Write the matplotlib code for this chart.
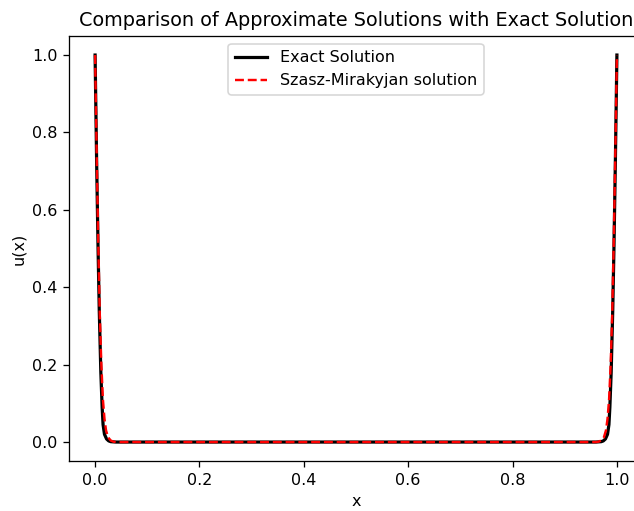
import matplotlib
matplotlib.use("Agg")
import matplotlib.pyplot as plt

# Values
x_exact = [0.0, 0.003, 0.0057, 0.008, 0.011, 0.0135, 0.0153, 0.018, 0.022, 0.026, 0.030, 0.040,
           0.960, 0.970, 0.974, 0.978, 0.982, 0.9847, 0.9865, 0.989, 0.992, 0.9943, 0.997, 1.0]
u_exact = [1.0, 0.72, 0.50, 0.34, 0.18, 0.09, 0.045, 0.02, 0.008, 0.003, 0.001, 0.0,
           0.0, 0.001, 0.003, 0.008, 0.02, 0.045, 0.09, 0.18, 0.34, 0.50, 0.72, 1.0]

x_szasz = [0.0, 0.003, 0.006, 0.009, 0.012, 0.015, 0.018, 0.021, 0.025, 0.030, 0.035, 0.040,
           0.960, 0.965, 0.970, 0.975, 0.979, 0.982, 0.985, 0.988, 0.991, 0.994, 0.997, 1.0]
u_szasz = [1.0, 0.75, 0.52, 0.33, 0.20, 0.11, 0.06, 0.03, 0.012, 0.004, 0.001, 0.0,
           0.0, 0.001, 0.004, 0.012, 0.03, 0.06, 0.11, 0.20, 0.33, 0.52, 0.75, 1.0]

title = "Comparison of Approximate Solutions with Exact Solution"
label_exact = "Exact Solution"
label_szasz = "Szasz-Mirakyjan solution"

DPI = 115.7
fig = plt.figure(figsize=(634 / DPI, 511 / DPI), dpi=DPI)
ax = fig.add_axes([69 / 634, 49.6 / 511, 574 / 634, 425.7 / 511])
ax.plot(x_exact, u_exact, color="black", linewidth=2, label=label_exact)
ax.plot(x_szasz, u_szasz, color="red", linestyle="--", linewidth=1.5, label=label_szasz)
ax.set_xlim(-0.05, 1.05)
ax.set_ylim(-0.05, 1.05)
ax.set_xticks([0.0, 0.2, 0.4, 0.6, 0.8, 1.0])
ax.set_yticks([0.0, 0.2, 0.4, 0.6, 0.8, 1.0])
ax.set_xlabel("x")
ax.set_ylabel("u(x)")
ax.set_title(title)
ax.legend(loc="upper center")
fig.savefig("out.png", dpi=DPI)
